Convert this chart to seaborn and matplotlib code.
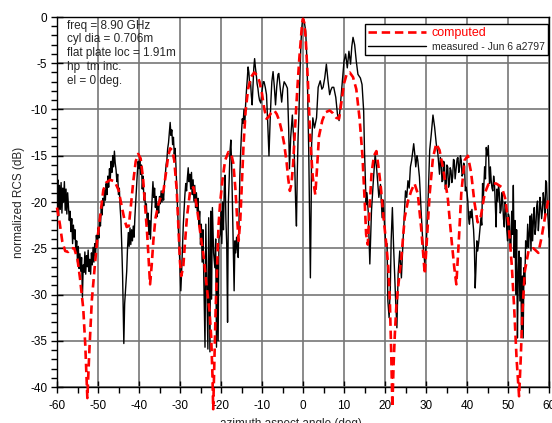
import matplotlib
matplotlib.use("Agg")
import matplotlib.pyplot as plt
from matplotlib.ticker import MultipleLocator
from matplotlib.lines import Line2D
import seaborn as sns
import pandas as pd

# ---- computed (red dashed) ----
comp_angle = [-60.0, -59.3, -58.7, -58.0, -57.3, -56.5, -55.8, -55.0, -54.4, -53.6, -53.1, -52.6, -52.1, -51.5,
              -50.8, -50.2, -49.6, -48.7, -48.0, -47.0, -45.9, -45.0, -44.2, -43.5, -43.0, -42.5, -42.0, -41.4,
              -40.8, -40.2, -39.6, -39.0, -38.5, -38.0, -37.6, -37.3, -36.9, -36.5, -36.0, -35.3, -34.6, -34.0,
              -33.4, -32.9, -32.4, -31.9, -31.4, -30.8, -30.4, -30.0, -29.7, -29.2, -28.8, -28.3, -27.5, -26.7,
              -25.9, -25.0, -24.2, -23.4, -22.8, -22.4, -22.1, -21.9, -21.6, -21.3, -21.0, -20.6, -20.2, -19.6,
              -19.0, -18.2, -17.5, -17.0, -16.5, -16.1, -15.7, -15.3, -14.9, -14.5, -14.0, -13.4, -12.7, -11.9,
              -11.2, -10.6, -10.0, -9.5, -8.9, -8.4, -7.8, -7.0, -6.4, -5.8, -5.2, -4.6, -4.0, -3.6, -3.2, -2.8,
              -2.4, -2.0, -1.7, -1.3, -0.9, -0.5, -0.2, 0.0, 0.3, 0.65, 1.2, 1.8, 2.4, 3.0, 3.4, 3.9, 4.7, 5.5,
              6.5, 7.3, 8.1, 8.8, 9.3, 10.0, 10.7, 11.4, 12.2, 13.0, 13.8, 14.5, 15.0, 15.4, 15.8, 16.2, 16.7,
              17.3, 17.9, 18.5, 19.0, 19.6, 20.3, 20.8, 21.2, 21.5, 21.8, 22.1, 22.4, 22.8, 23.2, 24.0, 24.8,
              25.6, 26.4, 27.2, 28.0, 28.8, 29.3, 29.7, 30.2, 30.9, 31.7, 32.5, 33.3, 34.1, 35.3, 36.1, 36.9,
              37.4, 38.0, 38.6, 39.4, 40.2, 41.0, 41.8, 42.6, 43.4, 44.3, 45.2, 46.0, 47.1, 48.5, 49.3, 50.1,
              50.9, 51.5, 52.1, 52.7, 53.1, 53.5, 54.1, 55.0, 56.2, 57.4, 58.2, 59.0, 59.8, 60.0]
comp_rcs = [-20.6, -22.4, -24.3, -25.3, -25.4, -25.0, -25.0, -26.2, -28.2, -31.5, -35.5, -41.2, -36.0, -30.6,
            -27.0, -24.2, -22.0, -18.7, -17.9, -17.6, -17.8, -18.7, -20.5, -22.0, -22.7, -22.6, -20.5, -17.8,
            -15.6, -14.8, -15.3, -17.5, -20.5, -23.5, -26.5, -28.9, -26.8, -24.2, -21.8, -20.3, -19.3, -18.7,
            -16.8, -15.1, -14.2, -14.4, -15.5, -18.7, -22.5, -26.5, -28.0, -27.0, -24.5, -21.6, -18.7, -18.4,
            -20.5, -23.5, -26.0, -29.5, -31.8, -34.5, -38.5, -42.4, -37.0, -31.5, -27.5, -22.5, -20.0, -17.5,
            -15.5, -14.6, -14.8, -15.8, -18.5, -21.5, -24.2, -22.0, -18.0, -13.8, -10.2, -7.8, -6.5, -6.0,
            -6.3, -7.0, -8.3, -9.8, -11.0, -10.8, -10.4, -10.1, -10.5, -11.2, -12.3, -13.7, -15.7, -17.5, -18.8, -18.0,
            -15.8, -12.5, -10.1, -7.2, -4.5, -2.2, -0.6, -0.2, -0.6, -2.2, -7.0, -13.5, -17.4, -19.2, -16.5, -12.9, -11.2, -10.3,
            -10.1, -10.4, -10.9, -11.0, -9.4, -7.2, -6.1, -6.0, -6.5, -7.8, -11.0, -15.0, -19.5, -23.5, -24.6, -21.0, -17.0,
            -15.0, -14.5, -16.5, -18.5, -21.5, -24.5, -27.0, -31.0, -36.0, -42.2, -37.5, -34.3, -31.0, -29.2, -26.0, -21.7,
            -19.9, -18.8, -18.0, -19.1, -22.7, -25.5, -27.8, -24.2, -19.1, -15.2, -13.7, -14.4, -16.2, -19.5, -23.5, -27.1,
            -28.9, -24.2, -19.1, -15.5, -15.0, -16.8, -20.0, -22.2, -21.5, -19.1, -18.1, -18.0, -18.0, -18.4, -19.6, -22.2,
            -26.7, -31.4, -37.0, -41.0, -37.0, -32.0, -27.5, -25.3, -25.0, -25.5, -23.8, -21.7, -19.8, -19.5]

# ---- measured (black solid) ----
meas_angle = [-60.0, -59.8, -59.6, -59.4, -59.2, -59.0, -58.8, -58.6, -58.4, -58.2, -58.0, -57.8, -57.6, -57.4,
              -57.2, -57.0, -56.8, -56.6, -56.4, -56.2, -56.0, -55.8, -55.6, -55.4, -55.2, -55.0, -54.8, -54.6,
              -54.4, -54.2, -54.0, -53.8, -53.6, -53.4, -53.2, -53.0, -52.8, -52.6, -52.4, -52.2, -52.0, -51.8,
              -51.6, -51.4, -51.2, -51.0, -50.8, -50.6, -50.4, -50.2, -50.0, -49.8, -49.6, -49.4, -49.2, -49.0,
              -48.8, -48.6, -48.4, -48.2, -48.0, -47.8, -47.6, -47.4, -47.2, -47.0, -46.8, -46.6, -46.4, -46.2,
              -46.0, -45.8, -45.6, -45.4, -45.2, -45.0, -44.8, -44.6, -44.4, -44.2, -44.0, -43.8, -43.7, -43.5,
              -43.3, -43.0, -42.8, -42.6, -42.4, -42.2, -42.0, -41.8, -41.6, -41.4, -41.2, -41.0, -40.8, -40.6,
              -40.4, -40.2, -40.0, -39.8, -39.6, -39.4, -39.2, -39.0, -38.8, -38.6, -38.4, -38.2, -38.0, -37.8,
              -37.6, -37.4, -37.2, -37.0, -36.8, -36.6, -36.4, -36.2, -36.0, -35.8, -35.6, -35.4, -35.2, -35.0,
              -34.8, -34.6, -34.4, -34.2, -34.0, -33.8, -33.6, -33.4, -33.2, -33.0, -32.8, -32.6, -32.4, -32.2,
              -32.0, -31.8, -31.6, -31.4, -31.2, -31.0, -30.8, -30.6, -30.4, -30.2, -30.0, -29.8, -29.6, -29.4,
              -29.2, -29.0, -28.8, -28.6, -28.4, -28.2, -28.0, -27.8, -27.6, -27.4, -27.2, -27.0, -26.8, -26.6,
              -26.4, -26.2, -26.0, -25.8, -25.6, -25.4, -25.2, -25.0, -24.8, -24.6, -24.4, -24.2, -23.9, -23.7,
              -23.5, -23.2, -23.0, -22.7, -22.5, -22.3, -22.1, -21.8, -21.5, -21.3, -21.1, -20.9, -20.7, -20.5,
              -20.2, -20.0, -19.8, -19.6, -19.4, -19.2, -19.0, -18.8, -18.6, -18.4, -18.2, -18.0, -17.8, -17.6,
              -17.4, -17.2, -17.0, -16.8, -16.6, -16.4, -16.2, -16.0, -15.8, -15.6, -15.4, -15.2, -15.0, -14.8,
              -14.6, -14.4, -14.2, -14.0, -13.8, -13.6, -13.4, -13.2, -13.0, -12.8, -12.6, -12.4, -12.2, -12.0,
              -11.8, -11.6, -11.4, -11.2, -11.0, -10.8, -10.6, -10.3, -10.0, -9.7, -9.5, -9.2, -8.9, -8.6,
              -8.3, -8.0, -7.8, -7.6, -7.3, -7.0, -6.7, -6.4, -6.1, -5.9, -5.6, -5.2, -4.9, -4.6,
              -4.2, -3.8, -3.5, -3.3, -3.0, -2.6, -2.3, -2.0, -1.8, -1.6, -1.4, -1.2, -1.0, -0.7,
              -0.5, -0.3, -0.1, 0.0, 0.3, 0.65, 1.0, 1.4, 1.6, 1.8, 2.0, 2.1, 2.4, 2.8,
              3.3, 3.7, 4.2, 4.6, 4.9, 5.3, 5.7, 6.1, 6.5, 6.8, 7.1, 7.5, 8.0, 8.4,
              8.8, 9.2, 9.6, 10.0, 10.4, 10.8, 11.2, 11.6, 11.9, 12.2, 12.6, 13.0, 13.4, 14.0,
              14.4, 14.8, 15.0, 15.4, 15.6, 15.9, 16.3, 16.7, 17.1, 17.6, 18.0, 18.5, 18.9, 19.3,
              19.6, 19.9, 20.2, 20.5, 20.7, 21.0, 21.3, 21.5, 21.8, 22.1, 22.6, 22.9, 23.2, 23.6,
              24.0, 24.4, 25.0, 25.3, 25.6, 25.9, 26.2, 26.5, 26.7, 27.0, 27.3, 27.5, 27.8, 28.0,
              28.4, 28.8, 29.2, 29.7, 30.1, 30.5, 30.9, 31.3, 31.7, 32.1, 32.5, 32.9, 33.3, 33.5,
              33.7, 33.9, 34.1, 34.3, 34.5, 34.7, 34.9, 35.1, 35.3, 35.5, 35.7, 35.9, 36.1, 36.3,
              36.5, 36.7, 36.9, 37.1, 37.4, 37.6, 37.8, 38.0, 38.2, 38.4, 38.6, 38.8, 39.0, 39.2,
              39.4, 39.6, 39.8, 40.0, 40.2, 40.4, 40.6, 40.8, 41.0, 41.2, 41.4, 41.6, 41.8, 42.0,
              42.2, 42.4, 42.6, 42.9, 43.1, 43.4, 43.6, 43.8, 44.0, 44.3, 44.5, 44.7, 44.9, 45.2,
              45.4, 45.5, 45.7, 45.9, 46.1, 46.3, 46.5, 46.7, 46.9, 47.1, 47.3, 47.5, 47.7, 47.9,
              48.1, 48.3, 48.5, 48.7, 48.9, 49.1, 49.3, 49.5, 49.7, 49.9, 50.1, 50.3, 50.5, 50.7,
              50.9, 51.1, 51.3, 51.5, 51.7, 51.9, 52.1, 52.3, 52.5, 52.7, 52.9, 53.1, 53.3, 53.5,
              53.7, 53.9, 54.1, 54.3, 54.6, 54.8, 55.0, 55.2, 55.4, 55.6, 55.8, 56.0, 56.2, 56.4,
              56.6, 56.8, 57.0, 57.2, 57.4, 57.6, 57.8, 58.0, 58.2, 58.4, 58.6, 58.8, 59.0, 59.2,
              59.4, 59.6, 59.8, 60.0]
meas_rcs = [-19.0, -17.6, -21.5, -18.2, -20.8, -17.9, -21.2, -18.5, -20.0, -17.8, -20.9, -18.6, -21.3, -19.0,
            -20.5, -22.0, -21.0, -23.2, -21.8, -24.5, -22.5, -24.0, -23.0, -25.5, -24.2, -26.5, -24.8, -27.2,
            -25.6, -27.5, -26.0, -30.3, -26.8, -27.6, -25.4, -27.8, -25.8, -27.0, -25.2, -27.5, -26.2, -27.8,
            -25.5, -26.8, -24.9, -26.5, -24.5, -25.8, -23.6, -24.5, -22.8, -23.9, -21.8, -22.6, -20.5, -21.4,
            -19.6, -20.4, -18.7, -19.8, -18.0, -19.2, -17.2, -18.4, -16.4, -17.5, -15.6, -16.8, -15.0, -16.2,
            -14.5, -15.8, -16.5, -17.8, -17.0, -19.2, -18.5, -20.6, -22.0, -24.8, -28.0, -32.5, -35.3, -31.0,
            -29.6, -27.5, -25.0, -23.3, -24.8, -22.8, -24.6, -23.0, -24.2, -22.6, -23.8, -21.6, -20.0, -18.2,
            -16.8, -15.6, -16.4, -15.2, -17.0, -16.0, -18.6, -17.2, -19.8, -19.0, -21.0, -20.2, -22.4, -21.2,
            -23.5, -22.0, -24.0, -21.5, -19.6, -17.8, -19.5, -18.5, -20.6, -19.4, -21.6, -20.2, -21.2, -19.4,
            -20.2, -18.8, -20.0, -19.0, -19.8, -18.0, -17.2, -16.0, -15.4, -14.2, -13.6, -12.5, -11.4, -12.8,
            -12.2, -13.8, -13.0, -14.8, -14.2, -16.0, -18.4, -20.5, -23.0, -24.9, -27.0, -29.6, -27.5, -24.9,
            -22.5, -20.8, -19.2, -18.0, -18.8, -17.4, -16.3, -17.8, -17.0, -18.6, -16.8, -19.2, -17.6, -19.9,
            -18.2, -20.6, -19.0, -21.0, -19.6, -22.5, -21.0, -24.6, -22.4, -26.5, -23.0, -28.2, -35.7, -22.4,
            -28.0, -35.9, -21.7, -36.2, -21.0, -30.5, -20.6, -25.5, -27.1, -24.0, -35.7, -26.5, -35.0, -24.0,
            -23.5, -21.0, -24.5, -20.0, -23.0, -18.5, -17.1, -22.0, -24.6, -33.0, -20.0, -17.5, -14.5, -13.3,
            -16.0, -20.5, -25.0, -29.6, -24.2, -25.5, -23.8, -25.0, -26.0, -22.0, -17.1, -14.5, -12.5, -11.0,
            -11.5, -10.0, -11.7, -9.5, -8.0, -6.8, -5.4, -6.0, -7.4, -7.0, -8.5, -9.5, -7.5, -5.5,
            -4.5, -5.5, -6.2, -7.2, -7.7, -8.5, -9.0, -9.3, -8.0, -7.0, -7.0, -7.6, -8.4, -11.5,
            -15.0, -11.0, -8.8, -7.0, -5.9, -7.5, -9.5, -7.5, -6.2, -6.1, -7.5, -9.2, -7.8, -7.0,
            -7.3, -7.7, -12.0, -16.4, -13.0, -10.6, -13.0, -16.4, -20.0, -22.6, -17.0, -13.0, -10.6, -5.5,
            -2.8, -1.2, -0.2, 0.0, -0.5, -1.5, -5.1, -14.5, -21.0, -28.2, -20.0, -13.8, -10.9, -12.0,
            -10.9, -7.6, -6.9, -7.8, -7.6, -6.6, -5.1, -6.9, -8.4, -7.9, -7.6, -7.6, -8.7, -10.5,
            -11.2, -9.1, -6.9, -4.8, -4.0, -5.5, -3.7, -5.1, -3.2, -2.2, -3.0, -4.8, -6.2, -6.6,
            -7.3, -10.2, -14.5, -20.3, -19.0, -21.0, -26.7, -21.0, -18.1, -14.8, -16.6, -19.5, -18.1, -21.7,
            -19.8, -22.7, -24.6, -24.5, -30.7, -32.5, -29.2, -24.2, -20.6, -24.9, -30.7, -33.6, -27.8, -25.3,
            -28.2, -24.2, -18.8, -19.5, -17.7, -18.5, -16.2, -15.5, -14.8, -13.7, -15.0, -16.2, -15.0, -15.5,
            -17.3, -20.9, -24.2, -26.7, -24.2, -19.9, -14.4, -12.6, -10.6, -11.9, -13.7, -14.8, -17.0, -15.2,
            -15.5, -17.8, -17.7, -15.6, -15.9, -18.6, -18.4, -16.0, -16.2, -18.4, -18.0, -16.3, -16.6, -17.9,
            -17.3, -15.4, -15.5, -17.5, -16.2, -15.3, -15.2, -16.8, -16.2, -15.0, -15.5, -17.2, -17.0, -15.8,
            -16.2, -18.8, -18.4, -19.0, -19.9, -21.8, -22.4, -21.0, -21.7, -20.8, -22.0, -23.0, -24.9, -29.3,
            -27.0, -24.2, -25.3, -24.2, -23.2, -21.7, -22.5, -18.0, -19.5, -16.2, -17.5, -14.1, -15.0, -13.9,
            -17.0, -18.0, -16.2, -17.7, -18.5, -18.8, -17.2, -18.0, -20.2, -22.7, -18.6, -19.9, -18.2, -19.1,
            -21.2, -20.9, -19.0, -19.9, -21.8, -22.7, -20.0, -20.9, -23.0, -24.2, -21.3, -21.7, -25.0, -24.9,
            -21.0, -23.5, -18.2, -26.0, -22.0, -30.0, -23.0, -34.7, -27.8, -25.3, -30.7, -26.0, -34.3, -28.0,
            -34.7, -27.1, -28.9, -24.2, -25.0, -22.4, -24.9, -23.5, -21.5, -25.3, -21.3, -24.2, -22.0, -20.6,
            -23.5, -22.7, -20.5, -19.9, -23.1, -21.7, -19.5, -20.5, -21.8, -20.9, -19.0, -19.9, -21.5, -17.7,
            -17.9, -20.6, -22.0, -23.8]

info_lines = ["freq = 8.90 GHz", "cyl dia = 0.706m", "flat plate loc = 1.91m", "hp  tm inc.", "el = 0 deg."]
legend_labels = ["computed", "measured - Jun 6 a2797"]
x_ticks = list(range(-60, 61, 10))
y_ticks = list(range(-40, 1, 5))

sns.set_theme(style="white")
plt.rcParams["font.family"] = ["Liberation Sans", "DejaVu Sans"]
plt.rcParams["axes.unicode_minus"] = False

df_c = pd.DataFrame({"angle": comp_angle, "rcs": comp_rcs})
df_m = pd.DataFrame({"angle": meas_angle, "rcs": meas_rcs})

fig = plt.figure(figsize=(5.52, 4.23), dpi=100)
ax = fig.add_axes([57 / 552, 1 - 387 / 423, 492 / 552, 370 / 423])

sns.lineplot(data=df_m, x="angle", y="rcs", ax=ax, color="black", linewidth=1.0,
             estimator=None, sort=False, zorder=3)
sns.lineplot(data=df_c, x="angle", y="rcs", ax=ax, color="#ff0000", linewidth=1.9,
             estimator=None, sort=False, zorder=4)
red_line = ax.lines[-1]
red_line.set_dashes((3.2, 1.8))
red_line.set_clip_on(False)

ax.set_xlim(-60, 60)
ax.set_ylim(-40, 0)
ax.set_xticks(x_ticks)
ax.set_yticks(y_ticks)
ax.set_xticklabels([str(v) for v in x_ticks])
ax.set_yticklabels([str(v) for v in y_ticks])
ax.xaxis.set_minor_locator(MultipleLocator(5))
ax.yaxis.set_minor_locator(MultipleLocator(1))
ax.grid(True, which="major", color="#777777", linewidth=1.2, zorder=0)
ax.set_axisbelow(True)
ax.tick_params(axis="both", which="major", direction="inout", length=8, width=1,
               labelsize=8.5, colors="black", pad=3)
ax.tick_params(axis="x", which="major", pad=5)
ax.tick_params(axis="both", which="minor", direction="out", length=4, width=1, colors="black")
ax.tick_params(left=True, bottom=True, which="both")
for s in ax.spines.values():
    s.set_color("black")
    s.set_linewidth(1.0)

ax.set_xlabel("azimuth aspect angle (deg)", fontsize=8.5)
ax.set_ylabel("normalized RCS (dB)", fontsize=8.5)
ax.xaxis.set_label_coords(0.476, -0.084)
ax.xaxis.label.set_va("top")
ax.yaxis.set_label_coords(-0.066, 0.5)

ax.text(0.02, 0.993, "\n".join(info_lines), transform=ax.transAxes, ha="left", va="top",
        fontsize=8.5, linespacing=1.2, zorder=5)

h_c = Line2D([], [], color="#ff0000", linewidth=1.9, dashes=(3.2, 1.8))
h_m = Line2D([], [], color="black", linewidth=1.0)
leg = ax.legend([h_c, h_m], legend_labels, loc="upper right", bbox_to_anchor=(0.998, 0.981),
                borderaxespad=0, fancybox=False, frameon=True, edgecolor="black",
                fontsize=8, handlelength=5.2, handletextpad=0.5, borderpad=0.3,
                labelspacing=0.25, framealpha=1)
leg.get_frame().set_linewidth(1.0)
leg.set_zorder(6)
txts = leg.get_texts()
txts[0].set_color("#ff0000")
txts[0].set_fontsize(9)
txts[1].set_fontsize(7.5)

fig.savefig("out.png", dpi=100)
